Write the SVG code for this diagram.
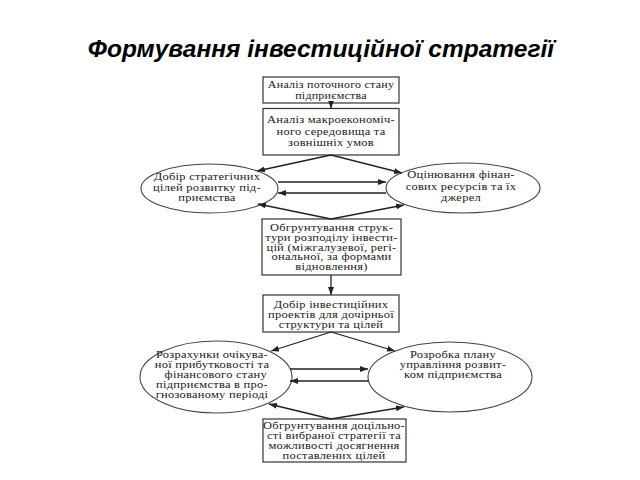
<svg xmlns="http://www.w3.org/2000/svg" width="640" height="480" viewBox="0 0 640 480">
<defs>
<marker id="ah" markerUnits="userSpaceOnUse" markerWidth="8" markerHeight="6" refX="8" refY="3" orient="auto">
<path d="M0,0 L8,3 L0,6 z" fill="#222"/>
</marker>
<style>
.title{font-family:"Liberation Sans",Arial,sans-serif;font-weight:bold;font-style:italic;font-size:24.5px;fill:#000;text-anchor:middle}
.box{fill:#fff;stroke:#333;stroke-width:1.2}
.ell{fill:#fff;stroke:#444;stroke-width:1.1}
.t{font-family:"Liberation Serif","Times New Roman",serif;font-size:10px;letter-spacing:0.2px;fill:#1a1a1a;text-anchor:middle}
.c{stroke:#222;stroke-width:1.3;fill:none;marker-end:url(#ah)}
</style>
</defs>
<rect width="640" height="480" fill="#fff"/>
<text class="title" x="321" y="57">Формування інвестиційної стратегії</text>

<g id="n1">
<rect class="box" x="263" y="77" width="136" height="26"/>
<g transform="matrix(1.2 0 0 1 -66.2 0)">
<text class="t" x="331" y="88.5">Аналіз поточного стану</text>
<text class="t" x="331" y="99">підприємства</text>
</g>
</g>
<g id="n2">
<rect class="box" x="263" y="108.5" width="136" height="46.5"/>
<g transform="matrix(1.25 0 0 1 -82.75 0)">
<text class="t" x="331" y="123.5">Аналіз макроекономіч-</text>
<text class="t" x="331" y="135">ного середовища та</text>
<text class="t" x="331" y="146.5">зовнішніх умов</text>
</g>
</g>
<g id="n3">
<ellipse class="ell" cx="209.5" cy="188.5" rx="68.5" ry="24.5"/>
<g transform="matrix(1.25 0 0 1 -51.75 0)">
<text class="t" x="207" y="180.5">Добір стратегічних</text>
<text class="t" x="207" y="191">цілей розвитку під-</text>
<text class="t" x="207" y="201.5">приємства</text>
</g>
</g>
<g id="n4">
<ellipse class="ell" cx="463" cy="188" rx="77" ry="25"/>
<g transform="matrix(1.25 0 0 1 -115.25 0)">
<text class="t" x="461" y="178.5">Оцінювання фінан-</text>
<text class="t" x="461" y="190">сових ресурсів та їх</text>
<text class="t" x="461" y="201.5">джерел</text>
</g>
</g>
<g id="n5">
<rect class="box" x="262" y="219" width="139" height="56"/>
<g transform="matrix(1.25 0 0 1 -82.875 0)">
<text class="t" x="331.5" y="231.5">Обгрунтування струк-</text>
<text class="t" x="331.5" y="241.5">тури розподілу інвести-</text>
<text class="t" x="331.5" y="251">цій (міжгалузевої, регі-</text>
<text class="t" x="331.5" y="260.5">ональної, за формами</text>
<text class="t" x="331.5" y="270">відновлення)</text>
</g>
</g>
<g id="n6">
<rect class="box" x="263" y="295" width="136" height="37"/>
<g transform="matrix(1.25 0 0 1 -82.75 0)">
<text class="t" x="331" y="308.5">Добір інвестиційних</text>
<text class="t" x="331" y="318.5">проектів для дочірньої</text>
<text class="t" x="331" y="328">структури та цілей</text>
</g>
</g>
<g id="n7">
<ellipse class="ell" cx="216" cy="377" rx="76" ry="36"/>
<g transform="matrix(1.25 0 0 1 -53 0)">
<text class="t" x="212" y="358.5">Розрахунки очікува-</text>
<text class="t" x="212" y="368.5">ної прибутковості та</text>
<text class="t" x="215" y="378.5">фінансового стану</text>
<text class="t" x="212" y="388.5">підприємства в про-</text>
<text class="t" x="212" y="398.5">гнозованому періоді</text>
</g>
</g>
<g id="n8">
<ellipse class="ell" cx="450" cy="377" rx="82" ry="35"/>
<g transform="matrix(1.25 0 0 1 -113.25 0)">
<text class="t" x="453" y="358.5">Розробка плану</text>
<text class="t" x="453" y="368.5">управління розвит-</text>
<text class="t" x="453" y="378.5">ком підприємства</text>
</g>
</g>
<g id="n9">
<rect class="box" x="263" y="419" width="143" height="43"/>
<g transform="matrix(1.25 0 0 1 -83.5 0)">
<text class="t" x="334" y="429">Обгрунтування доцільно-</text>
<text class="t" x="334" y="439">сті вибраної стратегії та</text>
<text class="t" x="334" y="449">можливості досягнення</text>
<text class="t" x="334" y="459">поставлених цілей</text>
</g>
</g>

<g id="connectors">
<line class="c" x1="331" y1="103" x2="331" y2="108.5"/>
<line class="c" x1="331" y1="155" x2="257" y2="171"/>
<line class="c" x1="331" y1="155" x2="402" y2="173"/>
<line class="c" x1="278" y1="182" x2="386" y2="182"/>
<line class="c" x1="386" y1="193" x2="278" y2="193"/>
<line class="c" x1="331" y1="219" x2="258" y2="204"/>
<line class="c" x1="331" y1="219" x2="404" y2="205"/>
<line class="c" x1="331" y1="275" x2="331" y2="295"/>
<line class="c" x1="331" y1="332" x2="271" y2="351"/>
<line class="c" x1="331" y1="332" x2="395" y2="351"/>
<line class="c" x1="290" y1="369" x2="368" y2="369"/>
<line class="c" x1="368" y1="381" x2="290" y2="381"/>
<line class="c" x1="331" y1="419" x2="269" y2="404"/>
<line class="c" x1="331" y1="419" x2="404" y2="407"/>
</g>
</svg>
